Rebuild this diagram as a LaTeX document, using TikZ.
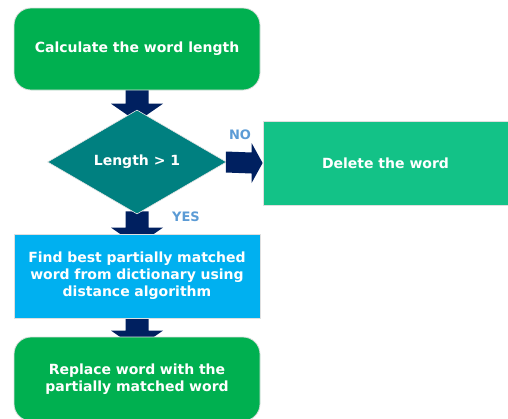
\documentclass[tikz,border=0pt]{standalone}
\usepackage{fontspec}
\setmainfont{DejaVu Sans}
\usetikzlibrary{shapes.geometric,calc,backgrounds}

\definecolor{stepgreen}{HTML}{00B050}
\definecolor{decisionteal}{HTML}{008080}
\definecolor{deletegreen}{HTML}{13C287}
\definecolor{searchblue}{HTML}{00B0F0}
\definecolor{arrownavy}{HTML}{002060}
\definecolor{labelblue}{HTML}{5B9BD5}

\tikzset{
  box/.style={draw=gray!25, line width=0.8pt, text=white,
    font=\fontsize{14}{17}\selectfont\bfseries, align=center,
    minimum width=246pt, minimum height=84pt, inner sep=0pt},
  roundbox/.style={box, rounded corners=17pt},
  decision/.style={diamond, draw=gray!20, line width=0.6pt, fill=decisionteal,
    text=white, font=\fontsize{14}{17}\selectfont\bfseries,
    minimum width=179pt, minimum height=104pt, aspect=1.72, inner sep=0pt},
  branchlabel/.style={text=labelblue, font=\fontsize{13}{15}\selectfont\bfseries},
  blockarrow/.style={fill=arrownavy}
}

% downward block arrow from the bottom of #1 to the top of #2
\newcommand{\flowdown}[2]{%
  \begin{scope}[on background layer]
    \fill[blockarrow]
      ($(#1.south)+(-11.5,-3)$) -- ($(#2.north)+(-11.5,-6)$) --
      ($(#2.north)+(-26,-6)$) -- ($(#2.north)+(0,12)$) --
      ($(#2.north)+(26,-6)$) -- ($(#2.north)+(11.5,-6)$) --
      ($(#1.south)+(11.5,-3)$) -- cycle;
  \end{scope}}

\begin{document}
\begin{tikzpicture}[x=1pt, y=-1pt]
  \useasboundingbox (0,0) rectangle (508,418);

  \node[roundbox, fill=stepgreen, minimum height=82pt] (calc) at (137,49)
    {Calculate the word length};
  \node[decision] (check) at (137,162) {Length > 1};
  \node[box, fill=deletegreen, minimum width=245pt] (delete) at (385.5,163)
    {Delete the word};
  \node[box, fill=searchblue, text width=230pt] (search) at (137,276)
    {Find best partially matched\\word from dictionary using\\distance algorithm};
  \node[roundbox, fill=stepgreen, text width=230pt] (replace) at (137,379)
    {Replace word with the\\partially matched word};

  \node[branchlabel] (nolabel) at (240,135) {NO};
  \node[branchlabel] (yeslabel) at (186,217) {YES};

  \flowdown{calc}{check}
  \flowdown{check}{search}
  \flowdown{search}{replace}

  % sideways arrow to the delete step
  \fill[blockarrow]
    ($(check.east)+(-1,-10.5)$) -- ($(delete.west)+(-11,-10.5)$) --
    ($(delete.west)+(-11,-20)$) -- (delete.west) --
    ($(delete.west)+(-11,20)$) -- ($(delete.west)+(-11,10.5)$) --
    ($(check.east)+(-1,10.5)$) -- cycle;
\end{tikzpicture}
\end{document}
